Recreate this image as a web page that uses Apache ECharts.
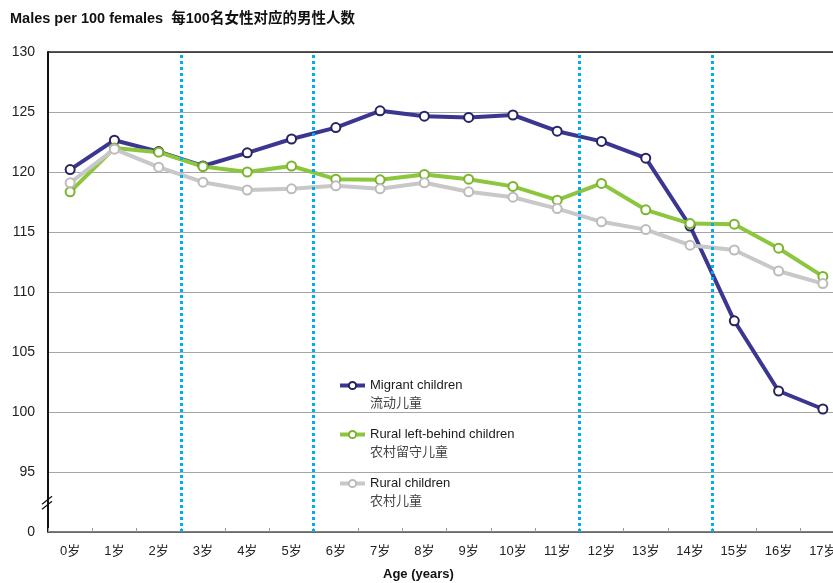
<!DOCTYPE html>
<html>
<head>
<meta charset="utf-8">
<script src="https://cdn.jsdelivr.net/npm/echarts@6/dist/echarts.min.js"></script>
<style>html,body{margin:0;padding:0;background:#fff;overflow:hidden}#c{width:845px;height:583px}</style>
</head>
<body>
<div id="c"></div>
<script>
var ages = ['0岁','1岁','2岁','3岁','4岁','5岁','6岁','7岁','8岁','9岁','10岁','11岁','12岁','13岁','14岁','15岁','16岁','17岁'];
var migrant = [120.2,122.65,121.7,120.5,121.6,122.75,123.7,125.1,124.65,124.55,124.75,123.4,122.55,121.15,115.5,107.6,101.75,100.25];
var leftBehind = [118.35,122.0,121.65,120.45,120.0,120.5,119.4,119.35,119.8,119.4,118.8,117.65,119.05,116.85,115.7,115.65,113.65,111.3];
var rural = [119.1,121.9,120.4,119.15,118.5,118.6,118.85,118.6,119.1,118.35,117.9,116.95,115.85,115.2,113.9,113.5,111.75,110.7];
var yTicks = {min: 90, max: 130, interval: 5};
var dividers = [3, 6, 12, 15];

var FONT = 'Liberation Sans, Arial, Noto Sans CJK SC, sans-serif';
var chart = echarts.init(document.getElementById('c'), null, {renderer: 'canvas'});

function mk(name, data, color, border) {
  return {
    name: name,
    type: 'line',
    data: data,
    symbol: 'circle',
    symbolSize: 9,
    lineStyle: {color: color, width: 4},
    itemStyle: {color: '#fff', borderColor: border, borderWidth: 2},
    emphasis: {disabled: true},
    silent: true,
    animation: false
  };
}

var option = {
  animation: false,
  title: [
    {text: 'Males per 100 females  每100名女性对应的男性人数', left: 10, top: 12, padding: 0,
     textStyle: {fontFamily: FONT, fontSize: 14.5, fontWeight: 'bold', color: '#111'}},
    {text: 'Age (years)', left: 383, top: 568, padding: 0,
     textStyle: {fontFamily: FONT, fontSize: 13, fontWeight: 'bold', color: '#111'}}
  ],
  grid: {left: 48, top: 52, right: 0, bottom: 51, containLabel: false},
  legend: {
    orient: 'vertical', left: 338, top: 361, padding: 0, itemWidth: 25, itemHeight: 9, itemGap: 0,
    lineStyle: {width: 4},
    data: ['Migrant children', 'Rural left-behind children', 'Rural children'],
    formatter: function (n) {
      var cn = {'Migrant children': '流动儿童', 'Rural left-behind children': '农村留守儿童', 'Rural children': '农村儿童'}[n];
      return '{e| }\n{a|' + n + '}\n{b|' + cn + '}';
    },
    textStyle: {
      fontFamily: FONT,
      rich: {
        e: {fontSize: 13, lineHeight: 18},
        a: {fontSize: 13, lineHeight: 18, color: '#1a1a1a', fontFamily: FONT},
        b: {fontSize: 13, lineHeight: 18, color: '#444', fontFamily: FONT}
      }
    }
  },
  xAxis: [
    {type: 'category', data: ages, boundaryGap: true,
     axisLine: {lineStyle: {color: '#555', width: 1.5}},
     axisTick: {show: true, inside: true, length: 4, lineStyle: {color: '#999'}},
     axisLabel: {fontFamily: FONT, fontSize: 13, color: '#222', margin: 13, interval: 0}},
    {type: 'value', min: 0, max: 18, show: false},
    {type: 'category', data: ages, position: 'top',
     axisLine: {lineStyle: {color: '#222', width: 1.5}},
     axisTick: {show: false}, axisLabel: {show: false}}
  ],
  yAxis: {
    type: 'value', min: yTicks.min, max: yTicks.max, interval: yTicks.interval,
    axisLine: {show: true, lineStyle: {color: '#111', width: 2}},
    axisTick: {show: false},
    axisLabel: {fontFamily: FONT, fontSize: 14, color: '#222', margin: 13,
      formatter: function (v) { return v === yTicks.min ? '0' : String(v); }},
    splitLine: {lineStyle: {color: '#a6a6a6', width: 1.2}}
  },
  series: [
    mk('Migrant children', migrant, '#3b368f', '#28245f'),
    mk('Rural left-behind children', leftBehind, '#8cc63f', '#7bb52f'),
    mk('Rural children', rural, '#c8c8c8', '#bcbcbc'),
    {
      type: 'line', xAxisIndex: 1, data: [], silent: true, z: 5,
      markLine: {
        silent: true, symbol: 'none', animation: false,
        label: {show: false},
        lineStyle: {color: '#00aeef', width: 3, type: [3, 3]},
        data: dividers.map(function (d) { return {xAxis: d}; })
      }
    }
  ]
};
chart.setOption(option);

// axis-break marker drawn at a y value inside the gap between 0 and 95
var p = chart.convertToPixel({yAxisIndex: 0}, 92.4);
var x0 = chart.convertToPixel({xAxisIndex: 1}, 0);
chart.setOption({
  graphic: [
    {type: 'line', shape: {x1: x0 - 6, y1: p + 1, x2: x0 + 4, y2: p - 7}, style: {stroke: '#111', lineWidth: 1.2}, z: 10},
    {type: 'line', shape: {x1: x0 - 6, y1: p + 6, x2: x0 + 4, y2: p - 2}, style: {stroke: '#111', lineWidth: 1.2}, z: 10}
  ]
});
</script>
</body>
</html>
